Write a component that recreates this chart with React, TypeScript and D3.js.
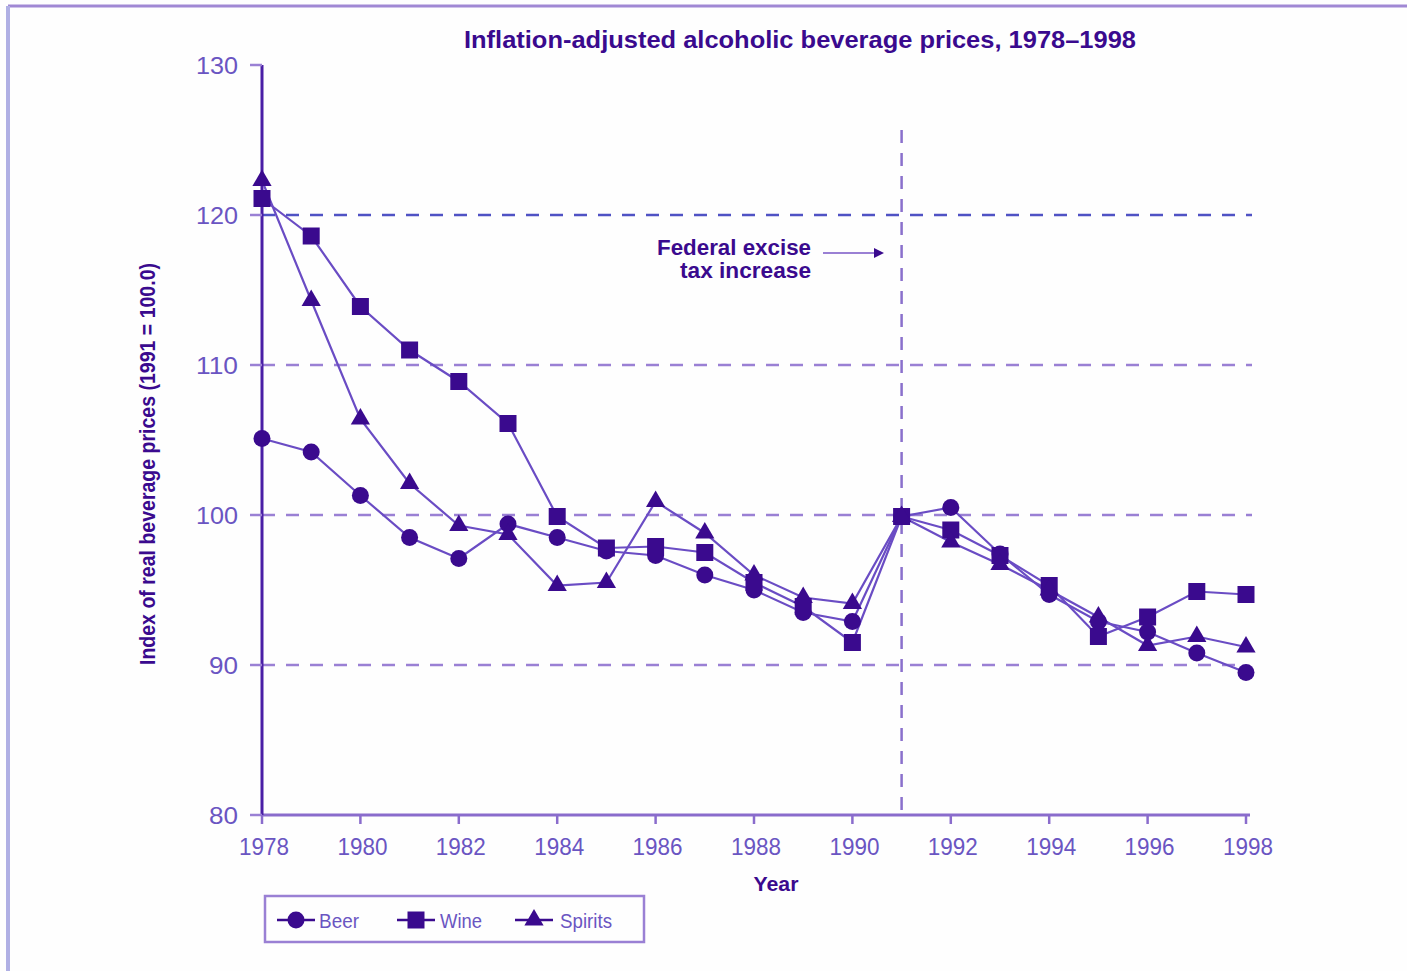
import React from "react";
import * as d3 from "d3";

const years = d3.range(1978, 1999);
const beer = [105.1, 104.2, 101.3, 98.5, 97.1, 99.4, 98.5, 97.6, 97.3, 96.0, 95.0, 93.5, 92.9, 99.9, 100.5, 97.4, 94.7, 92.9, 92.2, 90.8, 89.5];
const wine = [121.1, 118.6, 113.9, 111.0, 108.9, 106.1, 99.9, 97.8, 97.9, 97.5, 95.5, 93.9, 91.5, 99.9, 99.0, 97.3, 95.3, 91.9, 93.2, 94.9, 94.7];
const spirits = [122.3, 114.3, 106.4, 102.1, 99.3, 98.7, 95.3, 95.5, 100.9, 98.8, 96.0, 94.5, 94.1, 99.9, 98.2, 96.7, 95.0, 93.2, 91.3, 91.9, 91.2];
const yTicks = [80, 90, 100, 110, 120, 130];
const gridValues = [120, 110, 100, 90];
const xTickYears = d3.range(1978, 1999, 2);
const seriesNames = ["Beer", "Wine", "Spirits"];
const shapes = ["circle", "square", "triangle"];
const title = "Inflation-adjusted alcoholic beverage prices, 1978\u20131998";
const yLabel = "Index of real beverage prices (1991 = 100.0)";
const xLabel = "Year";
const annotation = ["Federal excise", "tax increase"];
const eventYear = 1991;

const DARK = "#3a0a8e";
const LINE = "#6a4cc4";
const TICKTXT = "#6a55c2";
const FONT = "'Liberation Sans', Arial, sans-serif";

function Marker({ shape, x, y }: { shape: string; x: number; y: number }) {
  if (shape === "circle") return <circle cx={x} cy={y} r={8.5} fill={DARK} />;
  if (shape === "square") return <rect x={x - 8.5} y={y - 8.5} width={17} height={17} fill={DARK} />;
  const tri = d3.symbol().type(d3.symbolTriangle).size(160)();
  return <path d={tri || ""} transform={`translate(${x},${y})`} fill={DARK} />;
}

export default function App() {
  const x = d3.scaleLinear().domain([1978, 1998]).range([262, 1246]);
  const y = d3.scaleLinear().domain([80, 130]).range([815, 65]);
  const data = [beer, wine, spirits];
  const line = d3
    .line<number>()
    .x((_, i) => x(years[i]))
    .y((d) => y(d));

  return (
    <svg
      width={1407}
      height={971}
      style={{ position: "absolute", left: 0, top: 0, background: "#fff" }}
      fontFamily={FONT}
    >
      <rect x={0} y={0} width={1407} height={971} fill="#fefefe" />
      {/* frame */}
      <line x1={8} x2={1407} y1={6} y2={6} stroke="#a088d4" strokeWidth={3} />
      <line x1={8} x2={8} y1={6} y2={971} stroke="#b0b0e4" strokeWidth={4} />

      {/* title */}
      <text x={800} y={48} textAnchor="middle" fontSize={24} fontWeight="bold" fill={DARK} textLength={672} lengthAdjust="spacingAndGlyphs">
        {title}
      </text>

      {/* grid lines */}
      {gridValues.map((v, i) => (
        <line
          key={v}
          x1={x(1978)}
          x2={v === 90 ? x(1998) : x(1998) + 6}
          y1={y(v)}
          y2={y(v)}
          stroke={i === 0 ? "#4f52c4" : "#9a80d4"}
          strokeWidth={2.5}
          strokeDasharray="13 11"
        />
      ))}

      {/* event line */}
      <line x1={x(eventYear)} x2={x(eventYear)} y1={130} y2={815} stroke="#8a70cc" strokeWidth={2.5} strokeDasharray="13 10" />

      {/* annotation */}
      {annotation.map((t, i) => (
        <text key={t} x={811} y={255 + i * 23} textAnchor="end" fontSize={22} fontWeight="bold" fill={DARK} textLength={i === 0 ? 154 : 131} lengthAdjust="spacingAndGlyphs">
          {t}
        </text>
      ))}
      <line x1={823} x2={876} y1={253} y2={253} stroke="#9a80d4" strokeWidth={2} />
      <path d="M874,248 L884,253 L874,258 Z" fill={DARK} />

      {/* axes */}
      <line x1={x(1978)} x2={x(1998) + 4} y1={y(80)} y2={y(80)} stroke="#8a6ccc" strokeWidth={3} />
      <line x1={x(1978)} x2={x(1978)} y1={y(130)} y2={y(80)} stroke="#4a1ea6" strokeWidth={3} />
      {yTicks.map((v) => (
        <g key={v}>
          <line x1={x(1978) - 12} x2={x(1978)} y1={y(v)} y2={y(v)} stroke="#9a80d4" strokeWidth={2.5} />
          <text x={238} y={y(v) + 9} textAnchor="end" fontSize={24} fill={TICKTXT} textLength={String(v).length === 3 ? 42 : 29} lengthAdjust="spacingAndGlyphs">
            {v}
          </text>
        </g>
      ))}
      {xTickYears.map((yr) => (
        <g key={yr}>
          <line x1={x(yr)} x2={x(yr)} y1={y(80)} y2={y(80) + 9} stroke="#8a6ccc" strokeWidth={2.5} />
          <text x={x(yr) + 2} y={y(80) + 40} textAnchor="middle" fontSize={24} fill={TICKTXT} textLength={50} lengthAdjust="spacingAndGlyphs">
            {yr}
          </text>
        </g>
      ))}

      {/* axis labels */}
      <text
        transform={`translate(155,464) rotate(-90)`}
        textAnchor="middle"
        fontSize={22}
        fontWeight="bold"
        fill={DARK}
        textLength={402}
        lengthAdjust="spacingAndGlyphs"
      >
        {yLabel}
      </text>
      <text x={776} y={891} textAnchor="middle" fontSize={21} fontWeight="bold" fill={DARK} textLength={45} lengthAdjust="spacingAndGlyphs">
        {xLabel}
      </text>

      {/* series lines */}
      {data.map((s, i) => (
        <path key={i} d={line(s) || ""} fill="none" stroke={LINE} strokeWidth={2.2} />
      ))}
      {/* markers */}
      {data.map((s, i) =>
        s.map((v, j) => <Marker key={`${i}-${j}`} shape={shapes[i]} x={x(years[j])} y={y(v)} />)
      )}

      {/* legend */}
      <rect x={265} y={896} width={379} height={46} fill="none" stroke="#9a80d4" strokeWidth={2.5} />
      {seriesNames.map((n, i) => {
        const cx = [296, 416, 534][i];
        const tx = [319, 440, 560][i];
        const tl = [40, 42, 52][i];
        return (
          <g key={n}>
            <line x1={cx - 19} x2={cx + 19} y1={920} y2={920} stroke={DARK} strokeWidth={2.5} />
            <Marker shape={shapes[i]} x={cx} y={920} />
            <text x={tx} y={928} fontSize={21} fill={TICKTXT} textLength={tl} lengthAdjust="spacingAndGlyphs">
              {n}
            </text>
          </g>
        );
      })}
    </svg>
  );
}
